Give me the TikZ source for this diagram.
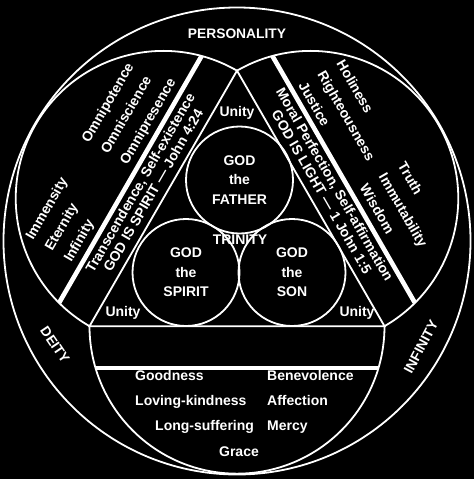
\documentclass[tikz,border=0pt]{standalone}
\usepackage{fontspec}
\setmainfont{Liberation Sans}
\begin{document}
\begin{tikzpicture}[x=1pt,y=-1pt,
  ln/.style={draw=white, line width=1.8pt},
  barline/.style={draw=white, line width=4.6pt},
  txt/.style={text=white, inner sep=0pt, font=\bfseries\fontsize{14}{17}\selectfont},
  lbl/.style={text=white, inner sep=0pt, font=\bfseries\fontsize{13.8}{16}\selectfont},
  tcirc/.style={circle, draw=white, line width=1.8pt, minimum size=107pt, inner sep=0pt,
    text=white, align=center, font=\bfseries\fontsize{14}{19.5}\selectfont}]
\fill[black] (0,0) rectangle (474,479);
\useasboundingbox (0,0) rectangle (474,479);
% geometry
\coordinate (C) at (237,241);
\coordinate (T) at (237,70.68);
\coordinate (BL) at (89.5,326.16);
\coordinate (BR) at (384.5,326.16);
\coordinate (ML) at (163.25,198.42);
\coordinate (MR) at (310.75,198.42);
\coordinate (MB) at (237,326.16);
% outer circle
\draw[ln] (C) circle[radius=233.5];
% semicircles on the triangle sides
\draw[ln] (BL) arc[start angle=120, end angle=300, radius=147.5];
\draw[ln] (BR) arc[start angle=60, end angle=-120, radius=147.5];
\draw[ln] (BL) arc[start angle=180, end angle=0, radius=147.5];
% triangle
\draw[ln] (T) -- (BL) -- (BR) -- cycle;
% bars
\coordinate (Lb1) at ([shift={(134.93:147.5)}]ML);
\coordinate (Lb2) at ([shift={(285.07:147.5)}]ML);
\coordinate (Rb1) at ([shift={(45.07:147.5)}]MR);
\coordinate (Rb2) at ([shift={(-105.07:147.5)}]MR);
\coordinate (Bb1) at ([shift={(163.5:147.5)}]MB);
\coordinate (Bb2) at ([shift={(16.5:147.5)}]MB);
\draw[barline] (Lb1) -- (Lb2);
\draw[barline] (Rb1) -- (Rb2);
\draw[barline] (Bb1) -- (Bb2);
% trinity circles
\node[tcirc] (father) at (239.5,180) {GOD\\the\\FATHER};
\node[tcirc] (spirit) at (186,272.5) {GOD\\the\\SPIRIT};
\node[tcirc] (son) at (292,272.5) {GOD\\the\\SON};
\node[txt] (trinity) at (240,240) {TRINITY};
\node[txt] (unityT) at (237,113) {Unity};
\node[txt] (unityL) at (123,313) {Unity};
\node[txt] (unityR) at (357,313) {Unity};
% outer labels
\node[lbl] (personality) at (237,34) {PERSONALITY};
\node[lbl, rotate=-56] (deity) at (55,345) {DEITY};
\node[lbl, rotate=62] (infinity) at (421,347) {INFINITY};
% left segment
\begin{scope}[shift={(ML)}, rotate=60, transform shape, y=1pt]
  \node[txt, anchor=mid west] (omnipresence) at (10,50) {Omnipresence};
  \node[txt, anchor=mid west] (omniscience) at (10,72) {Omniscience};
  \node[txt, anchor=mid west] (omnipotence) at (10,94) {Omnipotence};
  \node[txt, anchor=mid west] (infinityw) at (-102,50) {Infinity};
  \node[txt, anchor=mid west] (eternity) at (-102,72) {Eternity};
  \node[txt, anchor=mid west] (immensity) at (-102,94) {Immensity};
  \node[txt, anchor=mid] (spiritline) at (2,10.5) {GOD IS SPIRIT --- John 4:24};
  \node[txt, anchor=mid] (transc) at (2,25.5) {Transcendence, Self-existence};
\end{scope}
% right segment
\begin{scope}[shift={(MR)}, rotate=-60, transform shape, y=1pt]
  \node[txt, anchor=mid west] (holiness) at (-104,92) {Holiness};
  \node[txt, anchor=mid west] (righteous) at (-104,70) {Righteousness};
  \node[txt, anchor=mid west] (justice) at (-104,48) {Justice};
  \node[txt, anchor=mid west] (truth) at (15,94) {Truth};
  \node[txt, anchor=mid west] (immut) at (15,72) {Immutability};
  \node[txt, anchor=mid west] (wisdom) at (15,50) {Wisdom};
  \node[txt, anchor=mid] (lightline) at (0,10.5) {GOD IS LIGHT --- 1 John 1:5};
  \node[txt, anchor=mid] (moral) at (0,25.5) {Moral Perfection, Self-affirmation};
\end{scope}
% bottom segment
\node[txt, anchor=mid west] (goodness) at (135,378) {Goodness};
\node[txt, anchor=mid west] (benev) at (267,378) {Benevolence};
\node[txt, anchor=mid west] (loving) at (135,403) {Loving-kindness};
\node[txt, anchor=mid west] (affection) at (267,403) {Affection};
\node[txt, anchor=mid west] (longsuf) at (155,428) {Long-suffering};
\node[txt, anchor=mid west] (mercy) at (267,428) {Mercy};
\node[txt] (grace) at (239,452) {Grace};
\end{tikzpicture}
\end{document}
